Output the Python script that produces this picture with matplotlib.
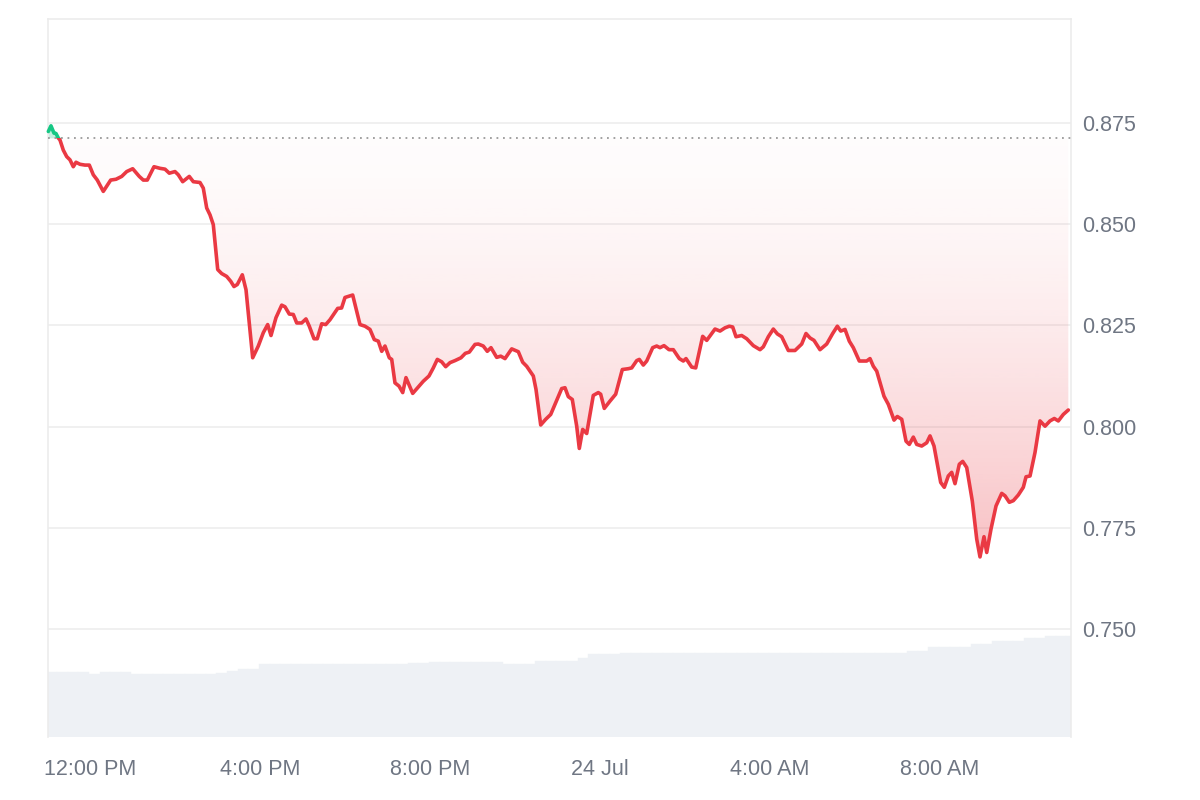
import numpy as np
import matplotlib
matplotlib.use("Agg")
import matplotlib.pyplot as plt
from matplotlib.patches import Rectangle
from matplotlib.path import Path

plt.rcParams['font.family'] = ['Liberation Sans', 'DejaVu Sans']

# ---------------- data ----------------
# hours relative to 23 Jul 12:00 PM
times = [
    -0.980, -0.918, -0.847, -0.800, -0.746, -0.706, -0.628, -0.548, -0.471, -0.393,
    -0.329, -0.235, -0.118, -0.016, 0.078, 0.172, 0.313, 0.487, 0.612, 0.746,
    0.864, 1.005, 1.160, 1.254, 1.348, 1.506, 1.647, 1.765, 1.866, 2.000,
    2.078, 2.181, 2.336, 2.431, 2.588, 2.666, 2.746, 2.824, 2.901, 3.005,
    3.099, 3.216, 3.311, 3.388, 3.466, 3.584, 3.671, 3.828, 3.960, 4.078,
    4.181, 4.259, 4.376, 4.511, 4.588, 4.689, 4.784, 4.864, 4.981, 5.082,
    5.160, 5.271, 5.348, 5.452, 5.546, 5.647, 5.828, 5.920, 6.000, 6.181,
    6.275, 6.353, 6.471, 6.588, 6.689, 6.784, 6.864, 6.941, 7.042, 7.099,
    7.176, 7.271, 7.358, 7.435, 7.593, 7.725, 7.842, 7.976, 8.078, 8.172,
    8.275, 8.369, 8.471, 8.588, 8.729, 8.831, 8.925, 9.059, 9.136, 9.254,
    9.348, 9.435, 9.569, 9.664, 9.765, 9.922, 10.078, 10.181, 10.275, 10.431,
    10.494, 10.605, 10.722, 10.840, 10.958, 11.099, 11.176, 11.254, 11.348, 11.452,
    11.513, 11.593, 11.687, 11.842, 11.960, 12.016, 12.101, 12.235, 12.369, 12.525,
    12.666, 12.746, 12.864, 12.925, 13.019, 13.099, 13.240, 13.334, 13.412, 13.506,
    13.624, 13.725, 13.866, 13.960, 14.024, 14.158, 14.252, 14.416, 14.511, 14.706,
    14.824, 14.941, 15.042, 15.122, 15.200, 15.334, 15.452, 15.607, 15.765, 15.842,
    15.960, 16.078, 16.172, 16.275, 16.431, 16.588, 16.746, 16.847, 16.941, 17.035,
    17.176, 17.334, 17.475, 17.584, 17.664, 17.765, 17.866, 17.960, 18.101, 18.275,
    18.353, 18.431, 18.511, 18.682, 18.784, 18.918, 18.995, 19.099, 19.200, 19.278,
    19.372, 19.452, 19.569, 19.687, 19.765, 19.859, 20.016, 20.101, 20.195, 20.275,
    20.353, 20.454, 20.534, 20.628, 20.760, 20.864, 20.941, 21.035, 21.099, 21.200,
    21.318, 21.452, 21.529, 21.631, 21.725, 21.842, 21.960, 22.024, 22.118, 22.235,
    22.353, 22.471, 22.588, 22.689, 22.784, 22.901, 23.019,
]
prices = [
    0.8729, 0.8743, 0.8725, 0.8724, 0.8713, 0.8708, 0.8683, 0.8667, 0.8659, 0.8642,
    0.8653, 0.8648, 0.8646, 0.8646, 0.8622, 0.8609, 0.8581, 0.8609, 0.8611, 0.8618,
    0.8630, 0.8637, 0.8618, 0.8609, 0.8609, 0.8642, 0.8638, 0.8636, 0.8626, 0.8630,
    0.8622, 0.8605, 0.8618, 0.8605, 0.8603, 0.8589, 0.8540, 0.8523, 0.8499, 0.8388,
    0.8378, 0.8371, 0.8359, 0.8346, 0.8351, 0.8375, 0.8338, 0.8170, 0.8199, 0.8232,
    0.8252, 0.8225, 0.8269, 0.8300, 0.8296, 0.8278, 0.8277, 0.8256, 0.8256, 0.8266,
    0.8248, 0.8217, 0.8217, 0.8254, 0.8252, 0.8264, 0.8292, 0.8293, 0.8319, 0.8325,
    0.8285, 0.8252, 0.8248, 0.8240, 0.8215, 0.8211, 0.8186, 0.8199, 0.8170, 0.8166,
    0.8108, 0.8100, 0.8084, 0.8121, 0.8082, 0.8098, 0.8112, 0.8125, 0.8145, 0.8166,
    0.8160, 0.8148, 0.8158, 0.8163, 0.8170, 0.8181, 0.8184, 0.8203, 0.8204, 0.8199,
    0.8186, 0.8195, 0.8171, 0.8174, 0.8168, 0.8192, 0.8185, 0.8159, 0.8149, 0.8125,
    0.8092, 0.8004, 0.8018, 0.8030, 0.8059, 0.8094, 0.8096, 0.8074, 0.8067, 0.8001,
    0.7946, 0.7993, 0.7983, 0.8077, 0.8084, 0.8080, 0.8045, 0.8063, 0.8080, 0.8141,
    0.8143, 0.8145, 0.8163, 0.8166, 0.8152, 0.8162, 0.8195, 0.8199, 0.8195, 0.8200,
    0.8190, 0.8190, 0.8168, 0.8162, 0.8168, 0.8147, 0.8145, 0.8223, 0.8213, 0.8241,
    0.8236, 0.8244, 0.8248, 0.8246, 0.8222, 0.8225, 0.8217, 0.8200, 0.8190, 0.8197,
    0.8222, 0.8241, 0.8229, 0.8222, 0.8188, 0.8188, 0.8204, 0.8230, 0.8219, 0.8213,
    0.8190, 0.8204, 0.8230, 0.8248, 0.8236, 0.8240, 0.8211, 0.8195, 0.8162, 0.8162,
    0.8168, 0.8149, 0.8137, 0.8075, 0.8055, 0.8016, 0.8025, 0.8018, 0.7964, 0.7956,
    0.7974, 0.7956, 0.7952, 0.7960, 0.7977, 0.7952, 0.7862, 0.7850, 0.7878, 0.7887,
    0.7859, 0.7907, 0.7914, 0.7899, 0.7816, 0.7722, 0.7678, 0.7728, 0.7689, 0.7747,
    0.7804, 0.7835, 0.7829, 0.7813, 0.7817, 0.7831, 0.7850, 0.7876, 0.7878, 0.7936,
    0.8014, 0.8001, 0.8014, 0.8020, 0.8014, 0.8030, 0.8041,
]
baseline_price = 0.8712

# volume bars, one per 15 minutes (relative units)
volume_start = -0.9
volume_step = 0.25
volume = [
    64.7, 64.7, 64.7, 64.7, 63.0, 64.7, 64.7, 64.7, 62.7, 62.7,
    62.7, 62.7, 62.7, 62.7, 62.7, 62.7, 64.3, 66.3, 68.0, 68.0,
    72.7, 72.7, 72.7, 72.7, 72.7, 72.7, 72.7, 72.7, 72.7, 72.7,
    72.7, 72.7, 72.7, 72.7, 74.3, 74.3, 74.7, 74.7, 74.7, 74.7,
    74.7, 74.7, 74.7, 72.7, 72.7, 72.7, 76.0, 76.0, 76.0, 76.0,
    79.3, 82.7, 82.7, 82.7, 84.3, 84.3, 84.3, 84.3, 84.3, 84.3,
    84.3, 84.3, 84.3, 84.3, 84.3, 84.3, 84.3, 84.3, 84.3, 84.3,
    84.3, 84.3, 84.3, 84.3, 84.3, 84.3, 84.3, 84.3, 84.3, 84.3,
    84.3, 86.0, 86.0, 89.7, 89.7, 89.7, 89.7, 92.7, 92.7, 96.0,
    96.0, 96.0, 98.7, 98.7, 101.0, 101.0, 101.0,
]

xtick_hours = [0, 4, 8, 12, 16, 20]
xtick_labels = ['12:00 PM', '4:00 PM', '8:00 PM', '24 Jul', '4:00 AM', '8:00 AM']
ytick_values = [0.750, 0.775, 0.800, 0.825, 0.850, 0.875]
ytick_labels = ['0.750', '0.775', '0.800', '0.825', '0.850', '0.875']

# ---------------- style ----------------
RED = '#ea3943'
GREEN = '#16c784'
TXT = '#6f7683'
GRID = '#ececec'
VOL = '#eef1f5'

x_min, x_max = -0.995, 23.075
y_min, y_max = 0.72332, 0.90069

t = np.array(times)
p = np.array(prices)
assert len(t) == len(p)

fig = plt.figure(figsize=(12, 8), dpi=100)
fig.patch.set_facecolor('white')
rect = [47.7 / 1200, 1 - 737 / 800, (1070.7 - 47.7) / 1200, (737 - 19) / 800]
ax = fig.add_axes(rect)
axv = ax.twinx()

# volume axis (behind)
vt = volume_start + volume_step * np.arange(len(volume))
axv.bar(vt, volume, width=volume_step, color=VOL, edgecolor=VOL, linewidth=0.3)
axv.set_ylim(0, 718)
axv.set_yticks([])
for s in axv.spines.values():
    s.set_visible(False)
ax.set_zorder(axv.get_zorder() + 1)
ax.patch.set_visible(False)

# gradient fill below baseline (red)
fb_red = ax.fill_between(t, p, baseline_price, where=p <= baseline_price,
                         interpolate=True, facecolor='none', edgecolor='none')
red_path = Path.make_compound_path(*fb_red.get_paths())
n = 256
g = np.linspace(0, 1, n)
grad = np.zeros((n, 1, 4))
grad[:, 0, :3] = np.array([234, 57, 67]) / 255.0
grad[:, 0, 3] = 0.015 + 0.30 * g ** 1.5
im = ax.imshow(grad, extent=[x_min, x_max, p.min(), baseline_price],
               aspect='auto', origin='upper', zorder=2, interpolation='bilinear')
im.set_clip_path(red_path, transform=ax.transData)

# green fill above baseline
ax.fill_between(t, p, baseline_price, where=p >= baseline_price,
                interpolate=True, facecolor=GREEN, alpha=0.25, edgecolor='none', zorder=2)

# baseline
ax.axhline(baseline_price, color='#9a9a9a', lw=1.3, ls=(0, (1, 2.6)), zorder=3)

# line, split by baseline via clipping
below = Rectangle((x_min - 5, y_min - 1), 40, baseline_price - (y_min - 1),
                  transform=ax.transData)
above = Rectangle((x_min - 5, baseline_price), 40, 1, transform=ax.transData)
l_red, = ax.plot(t, p, color=RED, lw=2.6, zorder=4,
                 solid_joinstyle='round', solid_capstyle='round')
l_red.set_clip_path(below)
l_green, = ax.plot(t, p, color=GREEN, lw=2.6, zorder=4,
                   solid_joinstyle='round', solid_capstyle='round')
l_green.set_clip_path(above)

# axes
ax.set_xlim(x_min, x_max)
ax.set_ylim(y_min, y_max)
ax.yaxis.tick_right()
ax.set_yticks(ytick_values)
ax.set_yticklabels(ytick_labels)
ax.set_xticks(xtick_hours)
ax.set_xticklabels(xtick_labels)
ax.tick_params(axis='y', length=0, pad=8, labelsize=15.5, labelcolor=TXT)
ax.tick_params(axis='x', length=0, pad=16, labelsize=15.5, labelcolor=TXT)
ax.grid(axis='y', color=GRID, lw=1.1, zorder=0)
ax.grid(axis='x', visible=False)
ax.set_axisbelow(True)
for side in ['top', 'left', 'right']:
    ax.spines[side].set_color(GRID)
    ax.spines[side].set_linewidth(1.2)
ax.spines['bottom'].set_visible(False)

fig.savefig('out.png', dpi=100, facecolor='white')
